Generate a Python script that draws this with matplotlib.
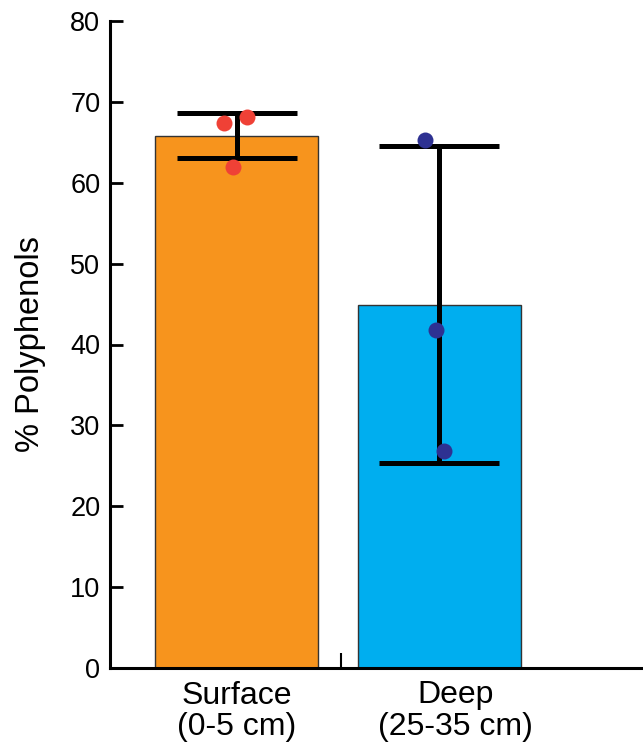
import matplotlib.pyplot as plt
from matplotlib.ticker import FixedLocator

plt.rcParams["font.family"] = ["Liberation Sans", "DejaVu Sans"]

# data
groups = ["Surface\n(0-5 cm)", "Deep\n(25-35 cm)"]
means = [65.8, 44.9]
errors = [2.8, 19.6]
bar_colors = ["#F7941D", "#00AEEF"]
dot_colors = ["#EF4136", "#2E3192"]
points = [[67.4, 68.1, 61.9], [65.3, 41.8, 26.8]]
jitter = [[-0.062, 0.052, -0.017], [-0.069, -0.015, 0.025]]
label_shift = [0.0, 0.079]  # the "Deep" label sits a little right of its bar

fig = plt.figure(figsize=(6.43, 7.46), dpi=100)
ax = fig.add_axes([110 / 643, 1 - 668 / 746, 1 - 110 / 643, (668 - 21) / 746])

x = list(range(len(groups)))
ax.bar(x, means, width=0.805, color=bar_colors, edgecolor="#333333", linewidth=1, zorder=1)
ax.errorbar(x, means, yerr=errors, fmt="none", ecolor="black", elinewidth=3.6,
            capsize=43, capthick=3.6, zorder=2)
for i in x:
    ax.plot([i + j for j in jitter[i]], points[i], "o", color=dot_colors[i],
            markersize=11.5, markeredgewidth=0, zorder=3)

ax.set_xlim(-0.625, 2.007)
ax.set_ylim(0, 80)
ax.set_yticks(range(0, 81, 10))
ax.set_xticks([i + s for i, s in zip(x, label_shift)])
ax.set_xticklabels(groups, linespacing=1.05)
ax.xaxis.set_minor_locator(FixedLocator([0.516]))

ax.tick_params(axis="y", direction="in", length=9.5, width=2, labelsize=19.5, pad=7)
ax.tick_params(axis="x", which="major", length=0, labelsize=23, pad=9)
ax.tick_params(axis="x", which="minor", direction="in", length=11, width=1.5)

ax.set_ylabel("% Polyphenols", fontsize=23.5, labelpad=17)

for side in ["top", "right"]:
    ax.spines[side].set_visible(False)
for side in ["left", "bottom"]:
    ax.spines[side].set_linewidth(2.2)

plt.savefig("out.png", dpi=100)
